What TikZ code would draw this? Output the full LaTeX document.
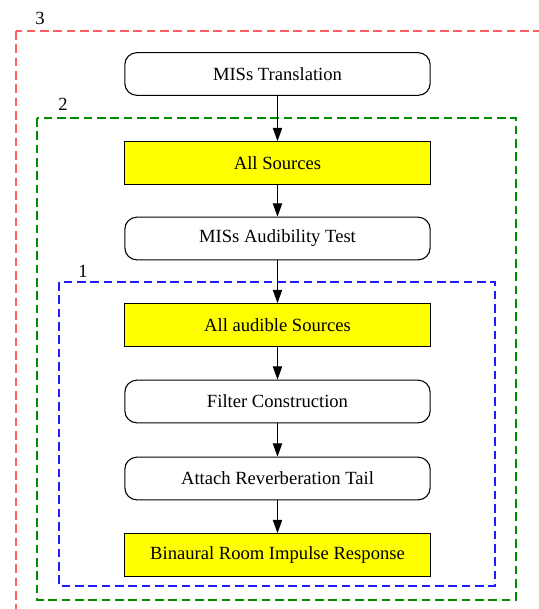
\documentclass[tikz,border=0pt]{standalone}
\usepackage{fontspec}
\setmainfont{Liberation Serif}
\usetikzlibrary{arrows.meta}
\definecolor{cred}{RGB}{255,95,95}
\definecolor{cgreen}{RGB}{0,140,0}
\definecolor{cblue}{RGB}{30,30,255}
\definecolor{cyel}{RGB}{255,255,0}
\begin{document}
\begin{tikzpicture}[x=0.75bp,y=-0.75bp,
  box/.style={draw=black,line width=0.8bp,minimum width=229bp,minimum height=32bp,inner sep=0pt,font=\fontsize{14}{16}\selectfont},
  rbox/.style={box,rounded corners=9bp,fill=white},
  ybox/.style={box,fill=cyel},
  grp/.style={line width=0.8bp,dash pattern=on 6.5bp off 3.5bp},
  lab/.style={font=\fontsize{14}{16}\selectfont,inner sep=0pt},
  arr/.style={line width=0.8bp,-{Triangle[length=10bp,width=7bp]}}]
\clip (0,0) rectangle (539,609);
\fill[white] (0,0) rectangle (539,609);
\draw[grp,cred] (16,31) rectangle (580,650);
\draw[grp,cgreen] (37,118) rectangle (516,600);
\draw[grp,cblue] (59,282) rectangle (495,586);
\node[lab] (l3) at (40,18) {3};
\node[lab] (l2) at (63,104) {2};
\node[lab] (l1) at (83,271) {1};
\node[rbox] (a) at (277.5,74) {MISs Translation};
\node[ybox] (b) at (277.5,163) {All Sources};
\node[rbox] (c) at (277.5,238.5) {MISs Audibility Test};
\node[ybox] (d) at (277.5,325) {All audible Sources};
\node[rbox] (e) at (277.5,401.5) {Filter Construction};
\node[rbox] (f) at (277.5,478.5) {Attach Reverberation Tail};
\node[ybox] (g) at (277.5,555) {Binaural Room Impulse Response};
\draw[arr] (a) -- (b);
\draw[arr] (b) -- (c);
\draw[arr] (c) -- (d);
\draw[arr] (d) -- (e);
\draw[arr] (e) -- (f);
\draw[arr] (f) -- (g);
\end{tikzpicture}
\end{document}
